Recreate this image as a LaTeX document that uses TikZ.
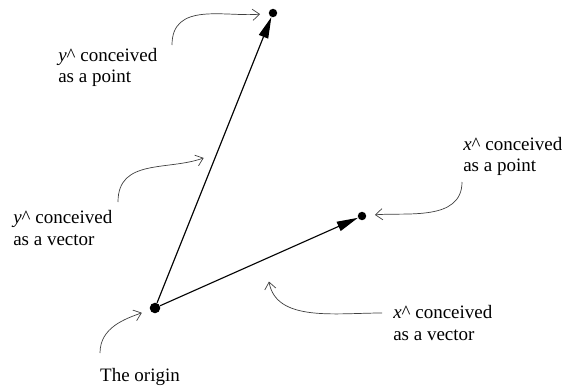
\documentclass[tikz,border=0pt]{standalone}
\usepackage{fontspec}
\setmainfont{Liberation Serif}
\usetikzlibrary{arrows.meta}

\tikzset{
  dot/.style={circle, fill, inner sep=0pt, minimum size=6pt},
  vec/.style={line width=0.8pt, -{Triangle[length=15pt,width=7pt]}},
  note/.style={black!75, line width=0.5pt, -{Straight Barb[length=5pt,width=8pt]}, shorten >=4pt},
  lbl/.style={align=left, inner sep=0pt, font=\fontsize{13.5}{15}\selectfont}
}

\begin{document}
\begin{tikzpicture}[x=0.025cm, y=0.025cm]

  \useasboundingbox (0,0) rectangle (570,390);

  % the three points
  \node[dot, minimum size=7.5pt] (O) at (155,82) {};
  \node[dot] (Y) at (273,377) {};
  \node[dot] (X) at (362,174) {};

  % the two vectors
  \draw[vec] (O) -- (Y);
  \draw[vec] (O) -- (X);

  % labels
  \node[lbl, anchor=west] (ypt) at (58,323) {\textit{y}\textasciicircum{} conceived\\as a point};
  \node[lbl, anchor=west] (yvec) at (13,162) {\textit{y}\textasciicircum{} conceived\\as a vector};
  \node[lbl, anchor=west] (xpt) at (463,234) {\textit{x}\textasciicircum{} conceived\\as a point};
  \node[lbl, anchor=west] (xvec) at (393,67) {\textit{x}\textasciicircum{} conceived\\as a vector};
  \node[lbl] (org) at (140,13) {The origin};

  % ends of the pointers
  \coordinate (ypt-s) at (172,345);
  \coordinate (yvec-s) at (118,188);
  \coordinate (yvec-e) at (209,234);
  \coordinate (org-s) at (100,37);
  \coordinate (xpt-s) at (462,208);
  \coordinate (xvec-s) at (382,77);
  \coordinate (xvec-e) at (268,114);

  % pointers
  \draw[note, shorten >=6pt] (ypt-s) to[out=90, in=185, looseness=1.1] (Y);
  \draw[note] (yvec-s) to[out=90, in=200, looseness=1.1] (yvec-e);
  \draw[note, shorten >=6pt] (org-s) to[out=90, in=200] (O);
  \draw[note, shorten >=6pt] (xpt-s) to[out=-90, in=5] (X);
  \draw[note] (xvec-s) to[out=180, in=-80] (xvec-e);

\end{tikzpicture}
\end{document}
